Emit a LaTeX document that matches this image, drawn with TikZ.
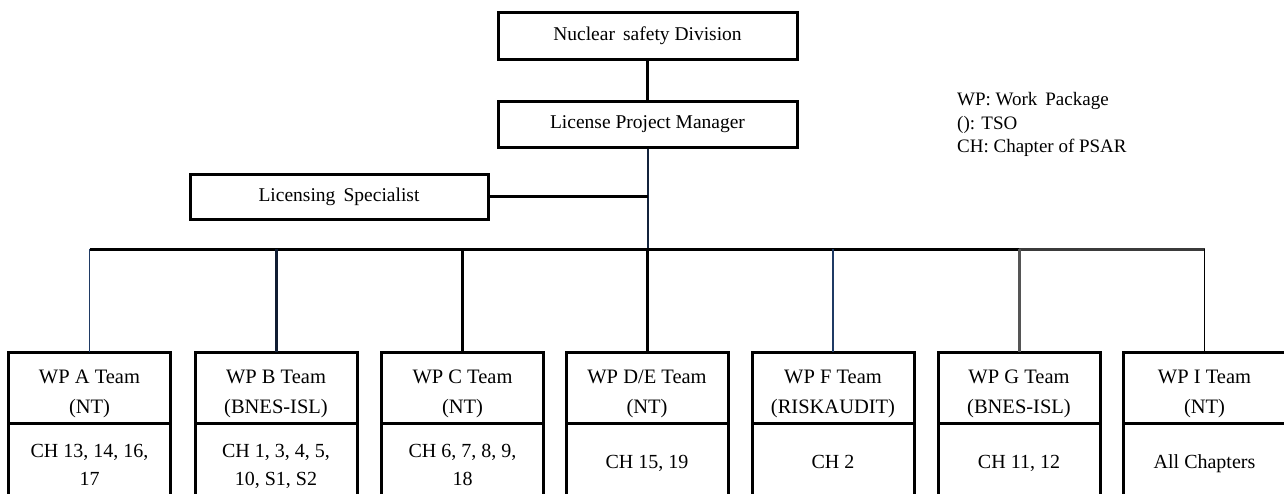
\documentclass[tikz,border=0pt]{standalone}
\usepackage{fontspec}
\setmainfont{Liberation Serif}
\usetikzlibrary{positioning}
\definecolor{navyline}{HTML}{1F3A64}
\definecolor{darkgrayline}{HTML}{555555}
\begin{document}
\begin{tikzpicture}[x=1pt,y=-1pt,
  font=\fontsize{19.5}{27}\selectfont,
  box/.style={draw, line width=3pt, minimum width=299pt, inner sep=0pt},
  head/.style={draw, line width=3pt, outer sep=0pt, minimum width=162pt,
    minimum height=71pt, inner sep=0pt, align=center,
    text height=51pt, text depth=0pt, font=\fontsize{20.5}{30}\selectfont},
  body/.style={outer sep=0pt, minimum width=162pt, minimum height=64pt,
    inner sep=0pt, align=center, text depth=0pt,
    font=\fontsize{20}{28}\selectfont},
  thick line/.style={line width=3pt},
  thin line/.style={line width=1.6pt, navyline},
  legend/.style={anchor=west, inner sep=0pt, font=\fontsize{19}{22}\selectfont}]
\useasboundingbox (0,0) rectangle (1284,493);
\clip (0,0) rectangle (1284,493);

% management chain
\node[box, minimum height=47pt] (nsd) at (647.5,35.5) {Nuclear\, safety Division};
\node[box, minimum height=46pt] (lpm) at (647.5,124) {License Project Manager};
\node[box, minimum width=298pt, minimum height=45pt] (ls) at (339,196.5) {Licensing\, Specialist};

% legend
\node[legend] (l1) at (957,101) {WP: Work\, Package};
\node[legend] (l2) at (957,125) {(): TSO};
\node[legend] (l3) at (957,148) {CH: Chapter of PSAR};

% work package teams: name / centre x / team / TSO / chapters / text height of chapters
\foreach \n/\x/\t/\o/\c/\h in {
  A/89.5/{WP A Team}/NT/{CH 13, 14, 16,\\17}/60,
  B/276/{WP B Team}/BNES-ISL/{CH 1, 3, 4, 5,\\10, S1, S2}/60,
  C/462.5/{WP C Team}/NT/{CH 6, 7, 8, 9,\\18}/60,
  D/647/{WP D/E Team}/NT/{CH 15, 19}/27,
  F/833/{WP F Team}/RISKAUDIT/{CH 2}/27,
  G/1019/{WP G Team}/BNES-ISL/{CH 11, 12}/27,
  I/1204.5/{WP I Team}/NT/{All Chapters}/27} {
  \node[head] (h\n) at (\x,387.5) {\t\\(\o)};
  \node[body, text height=\h pt, below=0pt of h\n] (b\n) {\c};
  \draw[thick line] (h\n.south west) -- ++(0,90);
  \draw[thick line] (h\n.south east) -- ++(0,90);
}

% connectors
\coordinate (bus) at (647.5,249);
\draw[thick line] (nsd) -- (lpm);
\draw[line width=2pt, navyline!60!black] (lpm) -- (bus);
\draw[line width=2.2pt] (ls) -- (ls -| lpm);
\draw[thick line] (hA.north |- bus) -- (hG.north |- bus);
\draw[thick line, darkgrayline!70!black] (hG.north |- bus) -- (hI.north |- bus);
\draw[thin line] (hA.north |- bus) -- (hA);
\draw[thick line, navyline!50!black] (hB.north |- bus) -- (hB);
\draw[thick line] (hC.north |- bus) -- (hC);
\draw[thick line] (hD.north |- bus) -- (hD);
\draw[thin line] (hF.north |- bus) -- (hF);
\draw[thick line, darkgrayline] (hG.north |- bus) -- (hG);
\draw[line width=1.6pt] (hI.north |- bus) -- (hI);
\end{tikzpicture}
\end{document}
